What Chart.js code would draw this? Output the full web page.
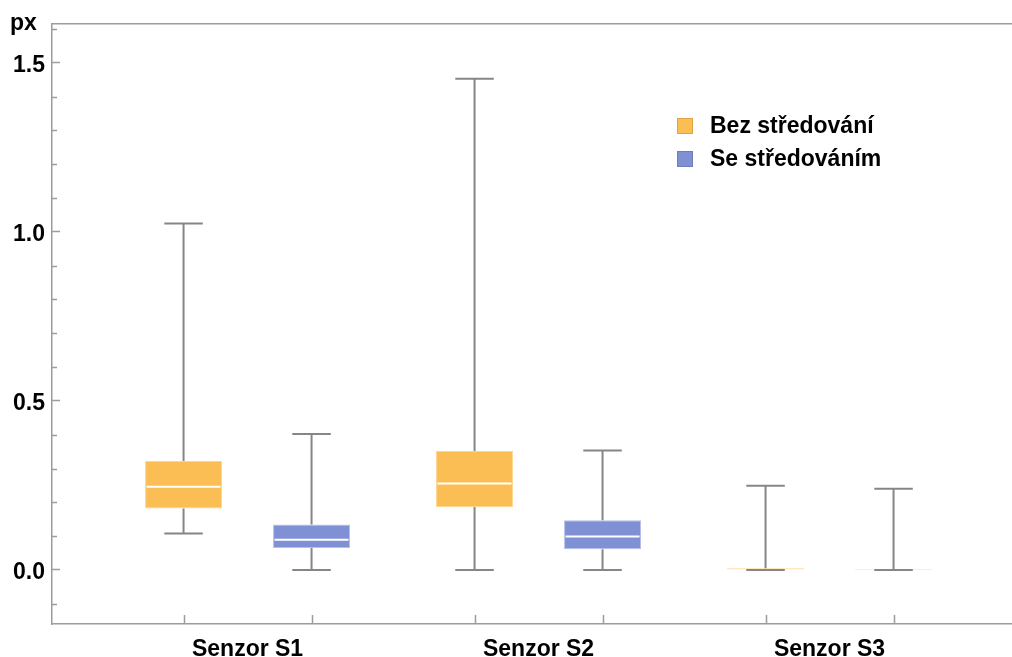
<!DOCTYPE html>
<html>
<head>
<meta charset="utf-8">
<title>Senzory – rozptyl</title>
<script src="https://cdn.jsdelivr.net/npm/chart.js@4.4.1/dist/chart.umd.min.js"></script>
<style>
  html, body { margin: 0; padding: 0; background: #ffffff; overflow: hidden; }
  canvas { display: block; }
</style>
</head>
<body>
<canvas id="chart" width="1012" height="657"></canvas>
<script>
// ---- data -------------------------------------------------------------
const CATEGORIES = ['Senzor S1', 'Senzor S2', 'Senzor S3'];
const SERIES_NAMES = ['Bez středování', 'Se středováním'];

// five-number summaries per sensor, without centring
const RAW_MIN    = [0.108, 0.000, 0.000];
const RAW_Q1     = [0.182, 0.186, 0.001];
const RAW_MEDIAN = [0.246, 0.256, 0.003];
const RAW_Q3     = [0.322, 0.352, 0.005];
const RAW_MAX    = [1.025, 1.453, 0.249];

// five-number summaries per sensor, with centring
const CEN_MIN    = [0.000, 0.000, 0.000];
const CEN_Q1     = [0.065, 0.061, 0.000];
const CEN_MEDIAN = [0.089, 0.099, 0.001];
const CEN_Q3     = [0.134, 0.147, 0.003];
const CEN_MAX    = [0.402, 0.353, 0.240];

// value axis
const Y_MAJOR = [0, 0.5, 1.0, 1.5];
const Y_TICK_LABELS = ['0.0', '0.5', '1.0', '1.5'];
const Y_MINOR = [-0.1, 0.1, 0.2, 0.3, 0.4, 0.6, 0.7, 0.8, 0.9, 1.1, 1.2, 1.3, 1.4, 1.6];
const Y_UNIT = 'px';
const Y_MIN = -0.16;
const Y_MAX = 1.615;
const X_MIN = 0.328;
const X_MAX = 3.627;

// ---- styling ----------------------------------------------------------
const FONT_FAMILY = "'Liberation Sans', Arial, Helvetica, sans-serif";
const LABEL_FONT = { family: FONT_FAMILY, size: 23, weight: 'bold' };
const AXIS_COLOR = '#9c9c9c';
const WHISKER_COLOR = '#868686';
const PALETTE = [
  { fill: '#FBBE55', edge: '#FDD592', key: '#DDA546' },
  { fill: '#8090D5', edge: '#B6BFEA', key: '#6F7DB8' }
];

const SUMMARIES = [
  { min: RAW_MIN, q1: RAW_Q1, median: RAW_MEDIAN, q3: RAW_Q3, max: RAW_MAX },
  { min: CEN_MIN, q1: CEN_Q1, median: CEN_MEDIAN, q3: CEN_Q3, max: CEN_MAX }
];

// boxes are floating bars spanning the quartiles
const datasets = SUMMARIES.map((s, d) => ({
  label: SERIES_NAMES[d],
  data: CATEGORIES.map((c, i) => ({ x: i + 1, y: [s.q1[i], s.q3[i]] })),
  backgroundColor: PALETTE[d].fill,
  borderColor: PALETTE[d].edge,
  borderWidth: 1,
  borderSkipped: false,
  categoryPercentage: 0.8797,
  barPercentage: 0.6016,
  stats: s,
  keyColor: PALETTE[d].key
}));

// ---- plugins ------------------------------------------------------------
// medians and whiskers drawn on top of the quartile boxes
const whiskerPlugin = {
  id: 'whiskers',
  afterDatasetsDraw(chart) {
    const ctx = chart.ctx;
    const y = chart.scales.y;
    chart.data.datasets.forEach((ds, d) => {
      const meta = chart.getDatasetMeta(d);
      const s = ds.stats;
      meta.data.forEach((bar, i) => {
        const cx = bar.x, w = bar.width;
        const pMin = y.getPixelForValue(s.min[i]);
        const pQ1 = y.getPixelForValue(s.q1[i]);
        const pMed = y.getPixelForValue(s.median[i]);
        const pQ3 = y.getPixelForValue(s.q3[i]);
        const pMax = y.getPixelForValue(s.max[i]);
        ctx.save();
        ctx.lineCap = 'butt';
        if (pQ1 - pQ3 > 4) {
          ctx.strokeStyle = '#ffffff';
          ctx.lineWidth = 2;
          ctx.beginPath();
          ctx.moveTo(cx - w / 2 + 1.5, pMed);
          ctx.lineTo(cx + w / 2 - 1.5, pMed);
          ctx.stroke();
        }
        ctx.strokeStyle = WHISKER_COLOR;
        ctx.lineWidth = 2;
        ctx.beginPath();
        ctx.moveTo(cx, pMax); ctx.lineTo(cx, pQ3);
        ctx.moveTo(cx, pQ1); ctx.lineTo(cx, pMin);
        ctx.moveTo(cx - w / 4, pMax); ctx.lineTo(cx + w / 4, pMax);
        ctx.moveTo(cx - w / 4, pMin); ctx.lineTo(cx + w / 4, pMin);
        ctx.stroke();
        ctx.restore();
      });
    });
  }
};

// inner tick marks: one per box on the x axis, minor steps on the y axis
const innerTicksPlugin = {
  id: 'innerTicks',
  afterDraw(chart) {
    const ctx = chart.ctx;
    const area = chart.chartArea;
    const y = chart.scales.y;
    ctx.save();
    ctx.strokeStyle = AXIS_COLOR;
    ctx.lineWidth = 1.5;
    ctx.beginPath();
    chart.data.datasets.forEach((ds, d) => {
      chart.getDatasetMeta(d).data.forEach(bar => {
        const x = Math.round(bar.x) + 0.5;
        ctx.moveTo(x, area.bottom);
        ctx.lineTo(x, area.bottom - 9);
      });
    });
    Y_MINOR.forEach(v => {
      const p = Math.round(y.getPixelForValue(v)) + 0.5;
      ctx.moveTo(area.left, p);
      ctx.lineTo(area.left + 5, p);
    });
    ctx.stroke();
    ctx.restore();
  }
};

// series key in the upper right part of the plot
const keyPlugin = {
  id: 'seriesKey',
  afterDraw(chart, args, opts) {
    const ctx = chart.ctx;
    ctx.save();
    ctx.font = `bold ${LABEL_FONT.size}px ${FONT_FAMILY}`;
    ctx.textBaseline = 'middle';
    ctx.textAlign = 'left';
    chart.data.datasets.forEach((ds, d) => {
      const top = opts.y + d * opts.rowGap;
      ctx.fillStyle = ds.backgroundColor;
      ctx.fillRect(opts.x, top, opts.size, opts.size);
      ctx.strokeStyle = ds.keyColor;
      ctx.lineWidth = 1;
      ctx.strokeRect(opts.x + 0.5, top + 0.5, opts.size - 1, opts.size - 1);
      ctx.fillStyle = '#000000';
      ctx.fillText(ds.label, opts.x + opts.textGap, top + opts.size / 2 + 1);
    });
    ctx.restore();
  }
};

// unit caption above the value axis
const unitPlugin = {
  id: 'unitCaption',
  afterDraw(chart, args, opts) {
    const ctx = chart.ctx;
    ctx.save();
    ctx.font = `bold ${LABEL_FONT.size}px ${FONT_FAMILY}`;
    ctx.fillStyle = '#000000';
    ctx.textAlign = 'left';
    ctx.textBaseline = 'alphabetic';
    ctx.fillText(Y_UNIT, opts.x, opts.y);
    ctx.restore();
  }
};

// ---- chart ----------------------------------------------------------------
new Chart(document.getElementById('chart'), {
  type: 'bar',
  data: { datasets },
  plugins: [whiskerPlugin, innerTicksPlugin, keyPlugin, unitPlugin],
  options: {
    responsive: false,
    animation: false,
    devicePixelRatio: 1,
    layout: { padding: { left: 13, top: 24, right: 0, bottom: 0 } },
    plugins: {
      legend: { display: false },
      tooltip: { enabled: false },
      seriesKey: { x: 677, y: 118, size: 16, rowGap: 33, textGap: 33 },
      unitCaption: { x: 10, y: 30 }
    },
    scales: {
      x: {
        type: 'linear',
        position: 'bottom',
        offset: false,
        min: X_MIN,
        max: X_MAX,
        afterBuildTicks: s => { s.ticks = CATEGORIES.map((c, i) => ({ value: i + 1 })); },
        afterFit: s => { s.height = 33; s.paddingLeft = 0; s.paddingRight = 0; },
        grid: { display: false, drawTicks: false, offset: false },
        border: { color: AXIS_COLOR, width: 1.5 },
        ticks: {
          padding: 12,
          color: '#000000',
          font: LABEL_FONT,
          maxRotation: 0,
          autoSkip: false,
          callback: (v, i) => CATEGORIES[i]
        }
      },
      frameTop: {
        type: 'linear',
        position: 'top',
        offset: false,
        min: X_MIN,
        max: X_MAX,
        afterFit: s => { s.height = 0; },
        grid: { display: false, drawTicks: false },
        border: { color: AXIS_COLOR, width: 1.5 },
        ticks: { display: false }
      },
      y: {
        type: 'linear',
        position: 'left',
        min: Y_MIN,
        max: Y_MAX,
        afterBuildTicks: s => { s.ticks = Y_MAJOR.map(v => ({ value: v })); },
        afterFit: s => { s.width = 39; s.paddingTop = 0; s.paddingBottom = 0; },
        grid: { display: true, drawOnChartArea: false, drawTicks: true, tickLength: -8, tickColor: AXIS_COLOR, tickWidth: 1.5 },
        border: { color: AXIS_COLOR, width: 1.5 },
        ticks: {
          padding: 15,
          labelOffset: 2.5,
          color: '#000000',
          font: LABEL_FONT,
          callback: (v, i) => Y_TICK_LABELS[i]
        }
      }
    }
  }
});
</script>
</body>
</html>
